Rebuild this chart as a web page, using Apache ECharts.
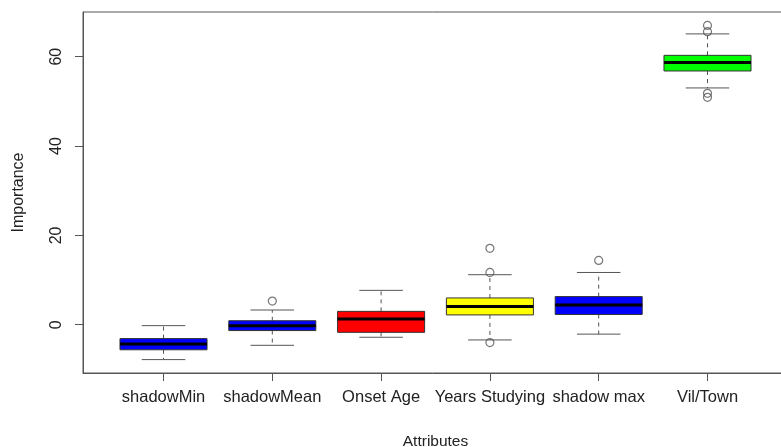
<!DOCTYPE html>
<html>
<head>
<meta charset="utf-8">
<script src="https://cdn.jsdelivr.net/npm/echarts@6/dist/echarts.min.js"></script>
<style>html,body{margin:0;padding:0;background:#fff;}#c{width:781px;height:447px;}</style>
</head>
<body>
<div id="c"></div>
<script>
const categories = ['shadowMin', 'shadowMean', 'Onset Age', 'Years Studying', 'shadow max', 'Vil/Town'];
const whiskerLow = [-7.8, -4.6, -2.8, -3.4, -2.1, 53.0];
const q1 = [-5.6, -1.3, -1.7, 2.2, 2.3, 56.8];
const median = [-4.3, -0.2, 1.3, 4.1, 4.4, 58.7];
const q3 = [-3.1, 0.9, 3.0, 6.0, 6.3, 60.3];
const whiskerHigh = [-0.2, 3.3, 7.7, 11.2, 11.7, 65.1];
const outliers = [[], [5.3], [], [17.1, 11.7, -4.0], [14.4], [67.0, 65.6, 51.8, 50.9]];
const boxColors = ['#0000FF', '#0000FF', '#FF0000', '#FFFF00', '#0000FF', '#00FF00'];
const yTicks = [0, 20, 40, 60];

const positions = categories.map((c, i) => i + 1);
const boxData = categories.map((c, i) => [positions[i], whiskerLow[i], q1[i], median[i], q3[i], whiskerHigh[i]]);
const outlierData = [];
outliers.forEach((arr, i) => arr.forEach(v => outlierData.push([positions[i], v])));

const chart = echarts.init(document.getElementById('c'), null, {renderer: 'canvas'});
const FONT = 'Liberation Sans, Arial, sans-serif';
const TXT = '#222';
const AX = '#555';

chart.setOption({
  animation: false,
  grid: {left: 83, top: 12, width: 705, height: 361, show: true, borderColor: AX, borderWidth: 1,
    backgroundColor: 'transparent', containLabel: false, outerBoundsMode: 'none'},
  xAxis: {
    type: 'value', min: 0.26, max: 6.74,
    name: 'Attributes', nameLocation: 'middle', nameGap: 61,
    nameTextStyle: {fontFamily: FONT, fontSize: 15.5, color: TXT},
    axisLine: {show: true, onZero: false, lineStyle: {color: AX, width: 1}},
    axisTick: {show: true, length: 8, inside: false, customValues: positions, lineStyle: {color: AX}},
    axisLabel: {customValues: positions, margin: 16, fontFamily: FONT, fontSize: 16.5, color: TXT,
      formatter: v => categories[Math.round(v) - 1] || ''},
    splitLine: {show: false}
  },
  yAxis: {
    type: 'value', min: -10.8, max: 70.0,
    name: 'Importance', nameLocation: 'middle', nameGap: 56, nameRotate: 90,
    nameTextStyle: {fontFamily: FONT, fontSize: 16, color: TXT},
    axisLine: {show: true, onZero: false, lineStyle: {color: AX, width: 1}},
    axisTick: {show: true, length: 8, inside: false, customValues: yTicks, lineStyle: {color: AX}},
    axisLabel: {customValues: yTicks, rotate: 90, margin: 18, fontFamily: FONT, fontSize: 16, color: TXT},
    splitLine: {show: false}
  },
  series: [
    {
      type: 'custom',
      data: boxData,
      encode: {x: 0, y: [1, 2, 3, 4, 5]},
      clip: false,
      renderItem: function (params, api) {
        const x = api.value(0);
        const i = params.dataIndex;
        const w = api.size([0.8, 0])[0];
        const cw = api.size([0.4, 0])[0];
        const pLow = api.coord([x, api.value(1)]);
        const pQ1 = api.coord([x, api.value(2)]);
        const pMed = api.coord([x, api.value(3)]);
        const pQ3 = api.coord([x, api.value(4)]);
        const pHigh = api.coord([x, api.value(5)]);
        const cx = pMed[0];
        const dash = {stroke: AX, lineWidth: 1, lineDash: [4, 4]};
        const solid = {stroke: AX, lineWidth: 1};
        return {
          type: 'group',
          children: [
            {type: 'line', shape: {x1: cx, y1: pQ3[1], x2: cx, y2: pHigh[1]}, style: dash},
            {type: 'line', shape: {x1: cx, y1: pQ1[1], x2: cx, y2: pLow[1]}, style: dash},
            {type: 'line', shape: {x1: cx - cw / 2, y1: pHigh[1], x2: cx + cw / 2, y2: pHigh[1]}, style: solid},
            {type: 'line', shape: {x1: cx - cw / 2, y1: pLow[1], x2: cx + cw / 2, y2: pLow[1]}, style: solid},
            {type: 'rect', shape: {x: cx - w / 2, y: pQ3[1], width: w, height: pQ1[1] - pQ3[1]},
              style: {fill: boxColors[i], stroke: '#333', lineWidth: 1}},
            {type: 'line', shape: {x1: cx - w / 2, y1: pMed[1], x2: cx + w / 2, y2: pMed[1]},
              style: {stroke: '#000', lineWidth: 3}}
          ]
        };
      }
    },
    {
      type: 'scatter',
      data: outlierData,
      symbol: 'circle',
      symbolSize: 8,
      itemStyle: {color: 'transparent', borderColor: AX, borderWidth: 1.2}
    }
  ]
});
</script>
</body>
</html>
